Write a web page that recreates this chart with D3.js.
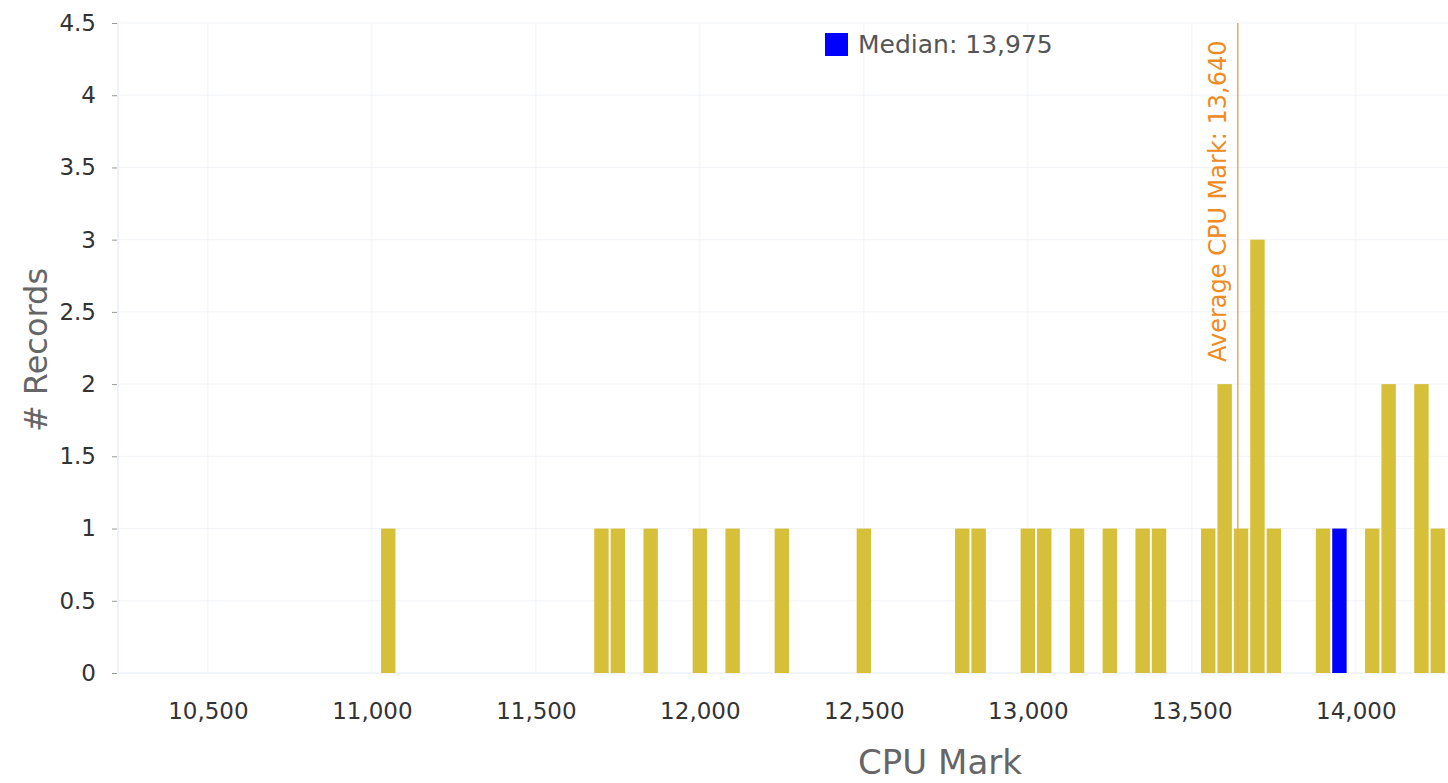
<!DOCTYPE html>
<html>
<head>
<meta charset="utf-8">
<script src="https://cdn.jsdelivr.net/npm/d3@7"></script>
<style>
  body { margin: 0; background: #fff; }
  svg, svg text { font-family: "DejaVu Sans", Verdana, sans-serif; }
  .axis path, .axis line { stroke: none; }
</style>
</head>
<body>
<div id="chart"></div>
<script>
// histogram bins (centre of each 50-point bin) and record counts
var binCenters = [11050, 11700, 11750, 11850, 12000, 12100, 12250, 12500,
                  12800, 12850, 13000, 13050, 13150, 13250, 13350, 13400,
                  13550, 13600, 13650, 13700, 13750, 13900, 13950,
                  14050, 14100, 14200, 14250];
var binCounts  = [1, 1, 1, 1, 1, 1, 1, 1,
                  1, 1, 1, 1, 1, 1, 1, 1,
                  1, 2, 1, 3, 1, 1, 1,
                  1, 2, 2, 1];
var binSize = 50;
var medianBin = 13950;
var medianValue = 13975;
var averageValue = 13640;
var xTicks = [10500, 11000, 11500, 12000, 12500, 13000, 13500, 14000];
var yTicks = [0, 0.5, 1, 1.5, 2, 2.5, 3, 3.5, 4, 4.5];

var width = 1448, height = 783;
var plotLeft = 118, plotRight = 1448, plotTop = 23, plotBottom = 673;

var svg = d3.select("#chart").append("svg")
  .attr("width", width)
  .attr("height", height);

var x = d3.scaleLinear()
  .domain([10226, 14281])
  .range([plotLeft, plotRight]);

var y = d3.scaleLinear()
  .domain([0, 4.5])
  .range([plotBottom, plotTop]);

// grid
svg.append("g").selectAll("line")
  .data(yTicks.slice(1))
  .enter().append("line")
  .attr("x1", plotLeft).attr("x2", plotRight)
  .attr("y1", d => y(d)).attr("y2", d => y(d))
  .style("stroke", "#f1f3f7").style("stroke-width", 1);

svg.append("g").selectAll("line")
  .data(xTicks)
  .enter().append("line")
  .attr("x1", d => x(d)).attr("x2", d => x(d))
  .attr("y1", plotTop).attr("y2", plotBottom)
  .style("stroke", "#f1f3f7").style("stroke-width", 1);

// axis lines
svg.append("line")
  .attr("x1", plotLeft).attr("x2", plotLeft).attr("y1", plotTop).attr("y2", plotBottom)
  .style("stroke", "#dfe7f1");
svg.append("line")
  .attr("x1", plotLeft).attr("x2", plotRight).attr("y1", plotBottom).attr("y2", plotBottom)
  .style("stroke", "#e4ebf4");

// bars
var bw = (x(binSize) - x(0)) * 0.88;
svg.append("g").selectAll("rect")
  .data(binCenters)
  .enter().append("rect")
  .attr("x", d => x(d) - bw / 2)
  .attr("width", bw)
  .attr("y", (d, i) => y(binCounts[i]))
  .attr("height", (d, i) => y(0) - y(binCounts[i]))
  .style("fill", d => d === medianBin ? "#0000ff" : "#d6c03a");

// average line + label
svg.append("line")
  .attr("x1", x(averageValue)).attr("x2", x(averageValue))
  .attr("y1", plotTop).attr("y2", plotBottom)
  .style("stroke", "#f7a35c").style("stroke-width", 1.5);

svg.append("text")
  .attr("transform", "translate(" + (x(averageValue) - 12) + "," + 362 + ") rotate(-90)")
  .attr("text-anchor", "start")
  .style("font-size", "24px")
  .style("fill", "#f08a22")
  .text("Average CPU Mark: " + d3.format(",")(averageValue));

// y axis
var yAxis = svg.append("g")
  .attr("class", "axis")
  .attr("transform", "translate(" + plotLeft + ",0)")
  .call(d3.axisLeft(y).tickValues(yTicks).tickFormat(d => String(d)).tickSize(6).tickPadding(16));
yAxis.attr("font-family", null);
yAxis.selectAll(".tick line").style("stroke", "#999").attr("x1", -6).attr("x2", -1);
yAxis.selectAll("text").style("font-size", "23px").style("fill", "#333");

// x axis
var xAxis = svg.append("g")
  .attr("class", "axis")
  .attr("transform", "translate(0," + plotBottom + ")")
  .call(d3.axisBottom(x).tickValues(xTicks).tickFormat(d3.format(",")).tickSize(0).tickPadding(30));
xAxis.attr("font-family", null);
xAxis.selectAll("text").style("font-size", "23px").style("fill", "#333");

// axis titles
svg.append("text")
  .attr("transform", "translate(47,350) rotate(-90)")
  .attr("text-anchor", "middle")
  .style("font-size", "32px")
  .style("fill", "#666")
  .text("# Records");

svg.append("text")
  .attr("x", 940).attr("y", 774)
  .attr("text-anchor", "middle")
  .style("font-size", "34px")
  .style("fill", "#666")
  .text("CPU Mark");

// legend
svg.append("rect")
  .attr("x", 825).attr("y", 33)
  .attr("width", 23).attr("height", 23)
  .style("fill", "#0000ff");

svg.append("text")
  .attr("x", 858).attr("y", 53)
  .style("font-size", "25px")
  .style("fill", "#555")
  .text("Median: " + d3.format(",")(medianValue));
</script>
</body>
</html>
